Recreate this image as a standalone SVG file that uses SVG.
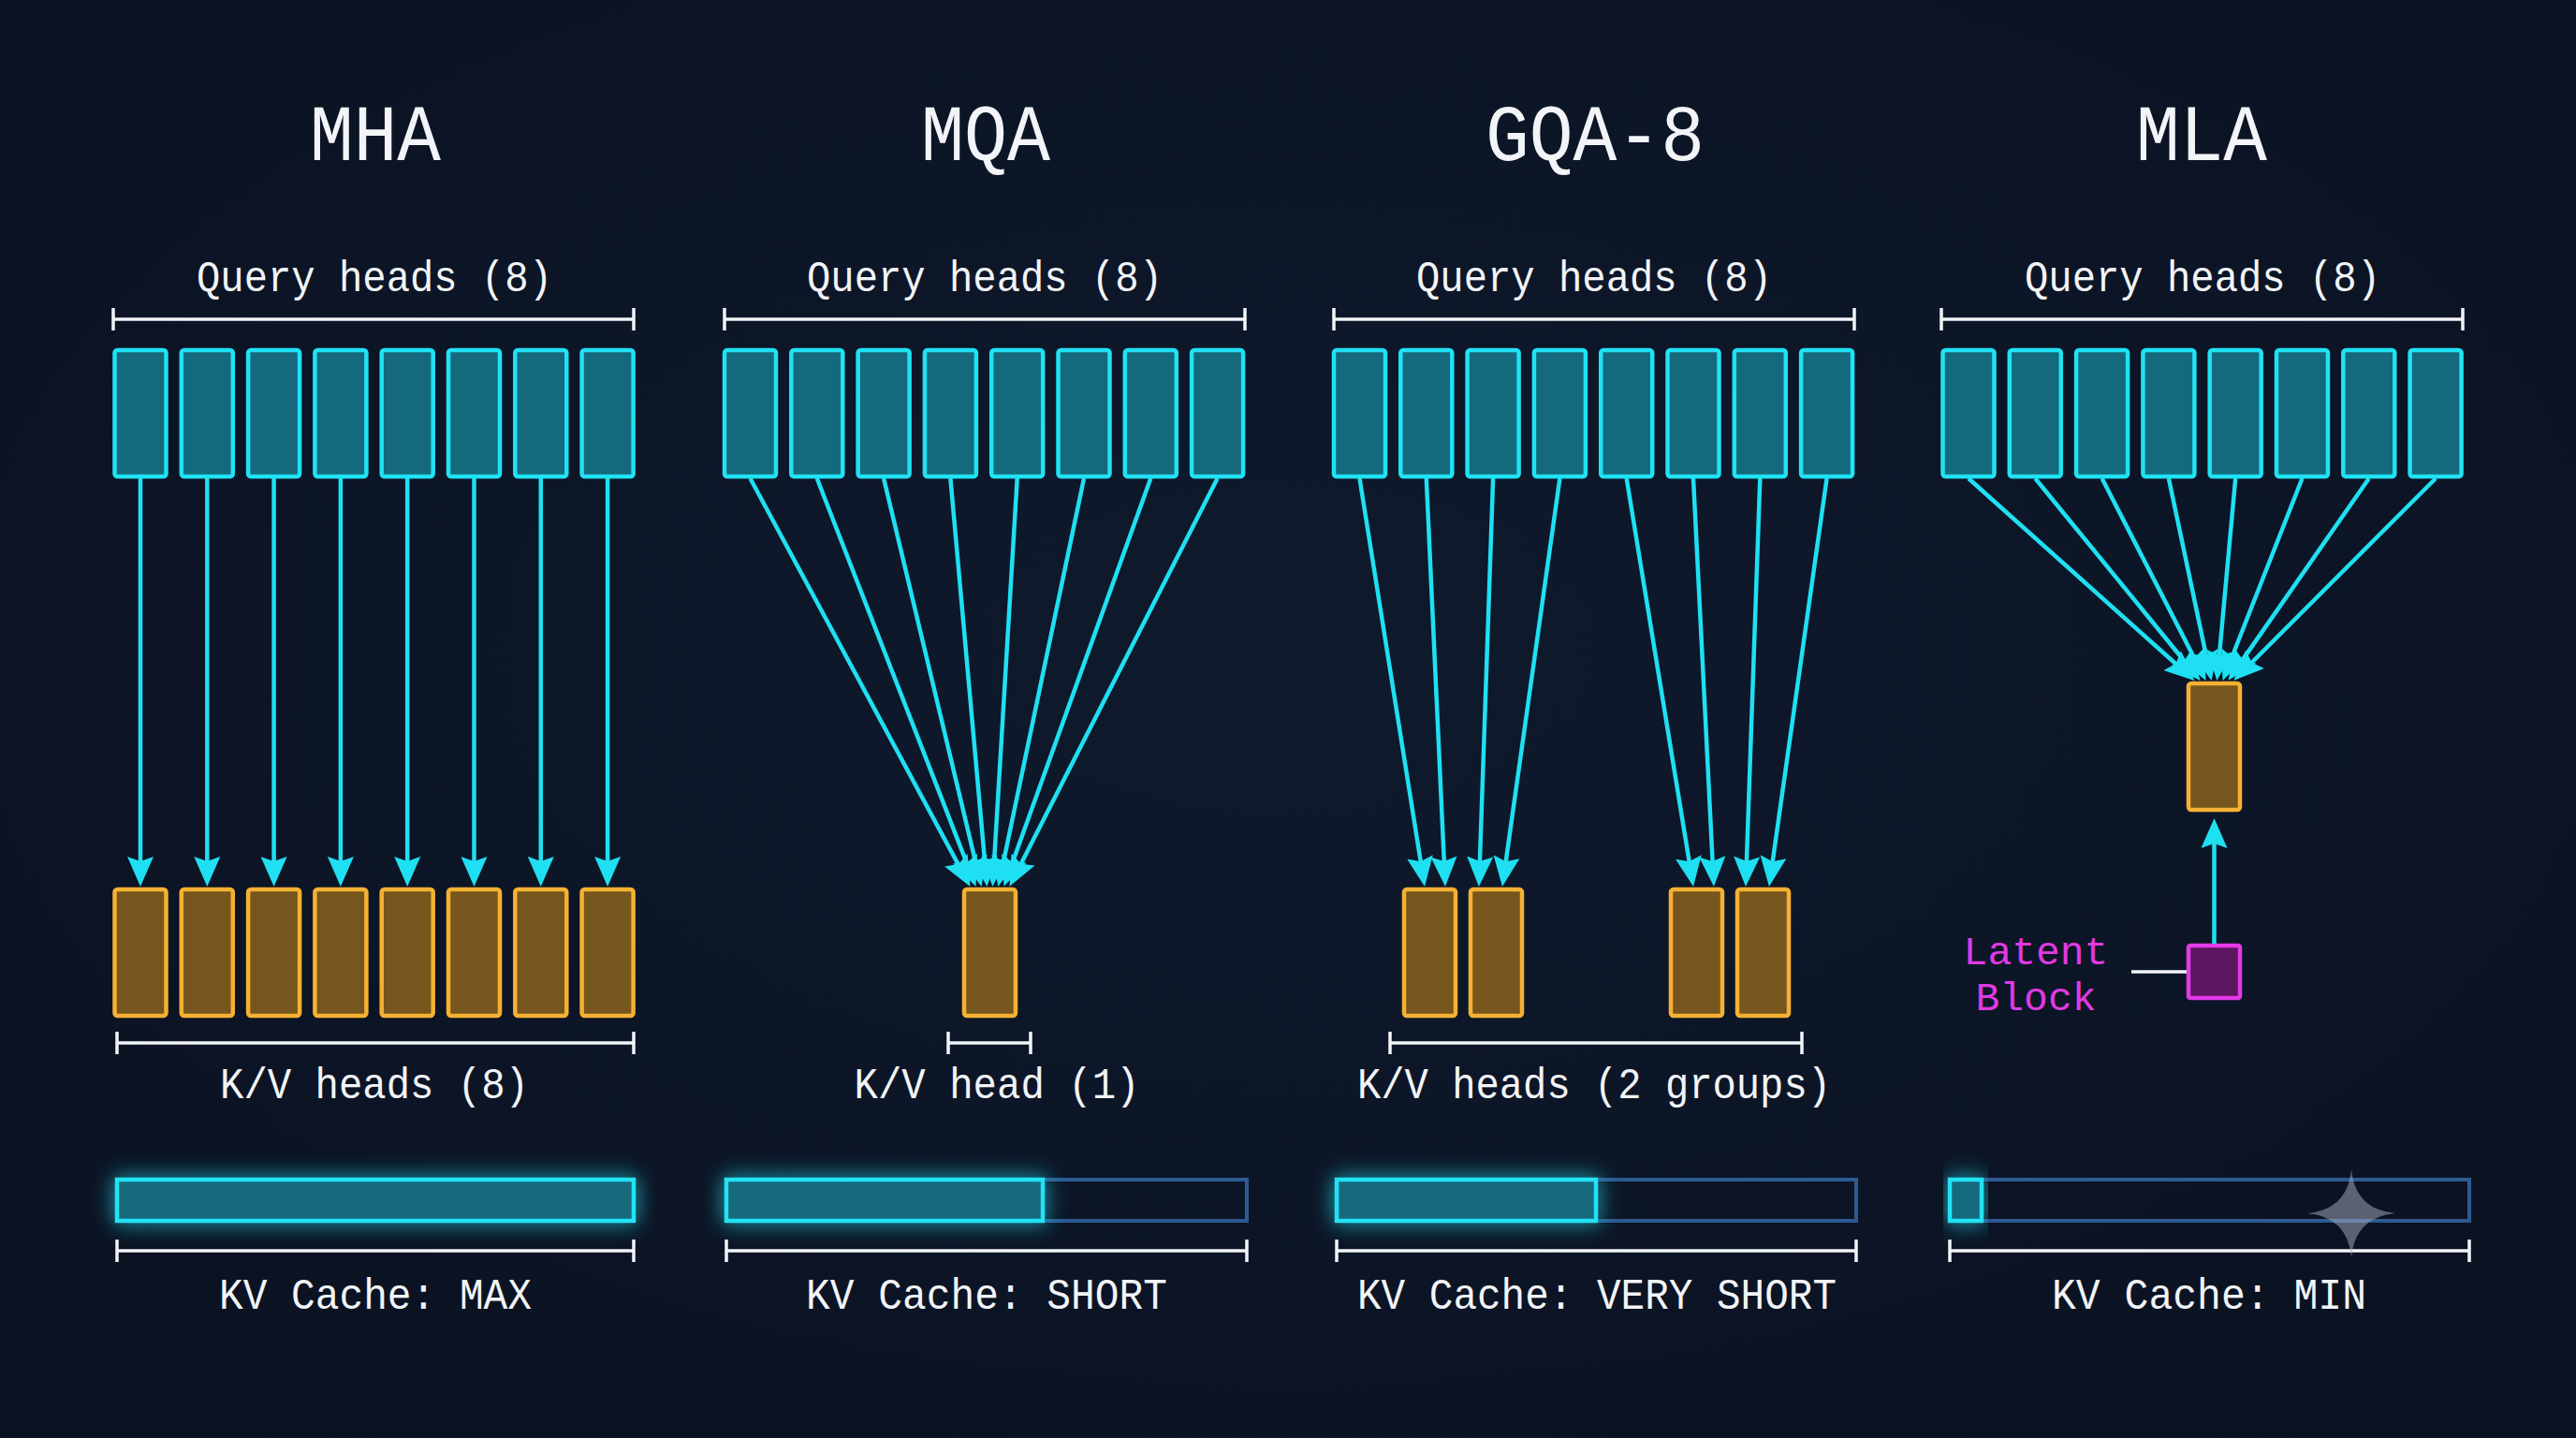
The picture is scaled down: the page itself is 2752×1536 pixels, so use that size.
<svg xmlns="http://www.w3.org/2000/svg" width="2752" height="1536" viewBox="0 0 2752 1536">
<defs>
<style>
.q{fill:#146a7c;stroke:#20e2f4;stroke-width:4.5}
.kv{fill:#76561c;stroke:#f6b133;stroke-width:4.5}
.lat{fill:#5c155f;stroke:#e23be6;stroke-width:4.5}
.t{font-family:"Liberation Mono","DejaVu Sans Mono",monospace;fill:#f2f4f7;text-anchor:middle}
.title{font-size:86px}
.lbl{font-size:47px}
.mag{font-family:"Liberation Mono","DejaVu Sans Mono",monospace;fill:#e03ae3;text-anchor:middle;font-size:43px}
.br{stroke:#f2f4f7;stroke-width:3.5;fill:none}
.conn{stroke:#1fe0f2;stroke-width:4.5;fill:none;marker-end:url(#ah)}
.bar{fill:#146a7c;stroke:#20e2f4;stroke-width:4.5}
.empty{fill:none;stroke:#2d5a92;stroke-width:4}
</style>
<marker id="ah" markerUnits="userSpaceOnUse" markerWidth="32" markerHeight="28" viewBox="0 0 32 28" refX="23" refY="14" orient="auto">
<path d="M0,0 L32,14 L0,28 L5,14 Z" fill="#1fe0f2"/>
</marker>
<filter id="glow" x="-20%" y="-80%" width="140%" height="260%">
<feGaussianBlur in="SourceGraphic" stdDeviation="11" result="b"/>
<feMerge><feMergeNode in="b"/><feMergeNode in="SourceGraphic"/></feMerge>
</filter>
<radialGradient id="bg" cx="50%" cy="45%" r="75%">
<stop offset="0" stop-color="#0f1a2d"/>
<stop offset="1" stop-color="#0a1120"/>
</radialGradient>
</defs>
<rect width="2752" height="1536" fill="url(#bg)"/>

<!-- Titles -->
<g id="titles" class="t title">
<text x="401" y="171" textLength="140" lengthAdjust="spacingAndGlyphs">MHA</text>
<text x="1053" y="171" textLength="138" lengthAdjust="spacingAndGlyphs">MQA</text>
<text x="1704" y="171" textLength="234" lengthAdjust="spacingAndGlyphs">GQA-8</text>
<text x="2352" y="171" textLength="140" lengthAdjust="spacingAndGlyphs">MLA</text>
</g>

<!-- Query labels and brackets -->
<g id="query-labels" class="t lbl">
<text x="400" y="311" textLength="380" lengthAdjust="spacingAndGlyphs">Query heads (8)</text>
<text x="1052" y="311" textLength="380" lengthAdjust="spacingAndGlyphs">Query heads (8)</text>
<text x="1703" y="311" textLength="380" lengthAdjust="spacingAndGlyphs">Query heads (8)</text>
<text x="2353" y="311" textLength="380" lengthAdjust="spacingAndGlyphs">Query heads (8)</text>
</g>
<g id="brackets" class="br">
<path d="M121,341H677M121,329V353M677,329V353"/>
<path d="M774,341H1330M774,329V353M1330,329V353"/>
<path d="M1425,341H1981M1425,329V353M1981,329V353"/>
<path d="M2074,341H2631M2074,329V353M2631,329V353"/>
<path d="M125,1114H677M125,1102V1126M677,1102V1126"/>
<path d="M1013,1114H1101M1013,1102V1126M1101,1102V1126"/>
<path d="M1485,1114H1925M1485,1102V1126M1925,1102V1126"/>
<path d="M125,1336H677M125,1324V1348M677,1324V1348"/>
<path d="M776,1336H1332M776,1324V1348M1332,1324V1348"/>
<path d="M1428,1336H1983M1428,1324V1348M1983,1324V1348"/>
<path d="M2083,1336H2638M2083,1324V1348M2638,1324V1348"/>
</g>

<!-- Query heads -->
<g id="mha-query" class="q">
<rect x="122.5" y="374" width="55" height="135" rx="3"/>
<rect x="193.8" y="374" width="55" height="135" rx="3"/>
<rect x="265.1" y="374" width="55" height="135" rx="3"/>
<rect x="336.4" y="374" width="55" height="135" rx="3"/>
<rect x="407.7" y="374" width="55" height="135" rx="3"/>
<rect x="479" y="374" width="55" height="135" rx="3"/>
<rect x="550.3" y="374" width="55" height="135" rx="3"/>
<rect x="621.6" y="374" width="55" height="135" rx="3"/>
</g>
<g id="mqa-query" class="q">
<rect x="774" y="374" width="55" height="135" rx="3"/>
<rect x="845.3" y="374" width="55" height="135" rx="3"/>
<rect x="916.6" y="374" width="55" height="135" rx="3"/>
<rect x="987.9" y="374" width="55" height="135" rx="3"/>
<rect x="1059.2" y="374" width="55" height="135" rx="3"/>
<rect x="1130.5" y="374" width="55" height="135" rx="3"/>
<rect x="1201.8" y="374" width="55" height="135" rx="3"/>
<rect x="1273.1" y="374" width="55" height="135" rx="3"/>
</g>
<g id="gqa-query" class="q">
<rect x="1425" y="374" width="55" height="135" rx="3"/>
<rect x="1496.3" y="374" width="55" height="135" rx="3"/>
<rect x="1567.6" y="374" width="55" height="135" rx="3"/>
<rect x="1638.9" y="374" width="55" height="135" rx="3"/>
<rect x="1710.2" y="374" width="55" height="135" rx="3"/>
<rect x="1781.5" y="374" width="55" height="135" rx="3"/>
<rect x="1852.8" y="374" width="55" height="135" rx="3"/>
<rect x="1924.1" y="374" width="55" height="135" rx="3"/>
</g>
<g id="mla-query" class="q">
<rect x="2075.5" y="374" width="55" height="135" rx="3"/>
<rect x="2146.8" y="374" width="55" height="135" rx="3"/>
<rect x="2218.1" y="374" width="55" height="135" rx="3"/>
<rect x="2289.4" y="374" width="55" height="135" rx="3"/>
<rect x="2360.7" y="374" width="55" height="135" rx="3"/>
<rect x="2432" y="374" width="55" height="135" rx="3"/>
<rect x="2503.3" y="374" width="55" height="135" rx="3"/>
<rect x="2574.6" y="374" width="55" height="135" rx="3"/>
</g>

<!-- K/V heads -->
<g id="mha-kv" class="kv">
<rect x="122.5" y="950" width="55" height="135" rx="3"/>
<rect x="193.8" y="950" width="55" height="135" rx="3"/>
<rect x="265.1" y="950" width="55" height="135" rx="3"/>
<rect x="336.4" y="950" width="55" height="135" rx="3"/>
<rect x="407.7" y="950" width="55" height="135" rx="3"/>
<rect x="479" y="950" width="55" height="135" rx="3"/>
<rect x="550.3" y="950" width="55" height="135" rx="3"/>
<rect x="621.6" y="950" width="55" height="135" rx="3"/>
</g>
<g id="mqa-kv" class="kv">
<rect x="1030" y="950" width="55" height="135" rx="3"/>
</g>
<g id="gqa-kv" class="kv">
<rect x="1500" y="950" width="55" height="135" rx="3"/>
<rect x="1571" y="950" width="55" height="135" rx="3"/>
<rect x="1785" y="950" width="55" height="135" rx="3"/>
<rect x="1856" y="950" width="55" height="135" rx="3"/>
</g>
<g id="mla-kv" class="kv">
<rect x="2338" y="730" width="55" height="135" rx="3"/>
</g>
<g id="mla-latent">
<rect class="lat" x="2338" y="1010" width="55" height="56" rx="2"/>
<text class="mag" x="2175" y="1030">Latent</text>
<text class="mag" x="2175" y="1079">Block</text>
</g>

<!-- Connectors -->
<g id="connectors">
<g class="conn">
<line x1="150" y1="511" x2="150" y2="938"/>
<line x1="221.3" y1="511" x2="221.3" y2="938"/>
<line x1="292.6" y1="511" x2="292.6" y2="938"/>
<line x1="363.9" y1="511" x2="363.9" y2="938"/>
<line x1="435.2" y1="511" x2="435.2" y2="938"/>
<line x1="506.5" y1="511" x2="506.5" y2="938"/>
<line x1="577.8" y1="511" x2="577.8" y2="938"/>
<line x1="649.1" y1="511" x2="649.1" y2="938"/>

<line x1="801.5" y1="511" x2="1032.2" y2="939"/>
<line x1="872.8" y1="511" x2="1039.3" y2="938.5"/>
<line x1="944.1" y1="511" x2="1046.4" y2="938.2"/>
<line x1="1015.4" y1="511" x2="1053.7" y2="938"/>
<line x1="1086.7" y1="511" x2="1061" y2="938"/>
<line x1="1158" y1="511" x2="1068.3" y2="938.2"/>
<line x1="1229.3" y1="511" x2="1075.6" y2="938.3"/>
<line x1="1300.6" y1="511" x2="1082.6" y2="938.7"/>

<line x1="1452.5" y1="511" x2="1520.6" y2="938.1"/>
<line x1="1523.8" y1="511" x2="1543.6" y2="938"/>
<line x1="1595.1" y1="511" x2="1580.3" y2="938"/>
<line x1="1666.4" y1="511" x2="1606.2" y2="938.1"/>
<line x1="1737.7" y1="511" x2="1807.6" y2="938.1"/>
<line x1="1809" y1="511" x2="1830.5" y2="938"/>
<line x1="1880.3" y1="511" x2="1865.3" y2="938"/>
<line x1="1951.6" y1="511" x2="1891.2" y2="938.1"/>

<line x1="2103" y1="511" x2="2337.8" y2="721"/>
<line x1="2174.3" y1="511" x2="2344.9" y2="720"/>
<line x1="2245.6" y1="511" x2="2352.5" y2="719"/>
<line x1="2316.9" y1="511" x2="2360.7" y2="718.3"/>
<line x1="2388.2" y1="511" x2="2369.3" y2="718"/>
<line x1="2459.5" y1="511" x2="2377.8" y2="718.7"/>
<line x1="2530.8" y1="511" x2="2385.7" y2="719.4"/>
<line x1="2602.1" y1="511" x2="2392.8" y2="720.5"/>

<line x1="2365.5" y1="1008" x2="2365.5" y2="883"/>
</g>
<line x1="2277" y1="1038" x2="2336" y2="1038" stroke="#f2f4f7" stroke-width="3.5"/>
</g>

<!-- K/V labels -->
<g id="kv-labels" class="t lbl">
<text x="400" y="1173" textLength="330" lengthAdjust="spacingAndGlyphs">K/V heads (8)</text>
<text x="1065" y="1173" textLength="305" lengthAdjust="spacingAndGlyphs">K/V head (1)</text>
<text x="1703" y="1173" textLength="506" lengthAdjust="spacingAndGlyphs">K/V heads (2 groups)</text>
</g>

<!-- KV cache bars -->
<g id="mha-cache">
<rect class="bar" x="125" y="1260" width="552" height="44" filter="url(#glow)"/>
</g>
<g id="mqa-cache">
<rect class="empty" x="776" y="1260" width="556" height="44"/>
<rect class="bar" x="776" y="1260" width="338" height="44" filter="url(#glow)"/>
</g>
<g id="gqa-cache">
<rect class="empty" x="1428" y="1260" width="555" height="44"/>
<rect class="bar" x="1428" y="1260" width="277" height="44" filter="url(#glow)"/>
</g>
<g id="mla-cache">
<rect class="empty" x="2083" y="1260" width="555" height="44"/>
<rect class="bar" x="2083" y="1260" width="34" height="44" filter="url(#glow)"/>
</g>
<path d="M2512,1249 Q2516,1292 2559,1296 Q2516,1300 2512,1343 Q2508,1300 2465,1296 Q2508,1292 2512,1249 Z" fill="#a9b1c2" opacity="0.5"/>

<g id="cache-labels" class="t lbl">
<text x="401" y="1398" textLength="334" lengthAdjust="spacingAndGlyphs">KV Cache: MAX</text>
<text x="1054" y="1398" textLength="386" lengthAdjust="spacingAndGlyphs">KV Cache: SHORT</text>
<text x="1706" y="1398" textLength="512" lengthAdjust="spacingAndGlyphs">KV Cache: VERY SHORT</text>
<text x="2360" y="1398" textLength="336" lengthAdjust="spacingAndGlyphs">KV Cache: MIN</text>
</g>
</svg>
